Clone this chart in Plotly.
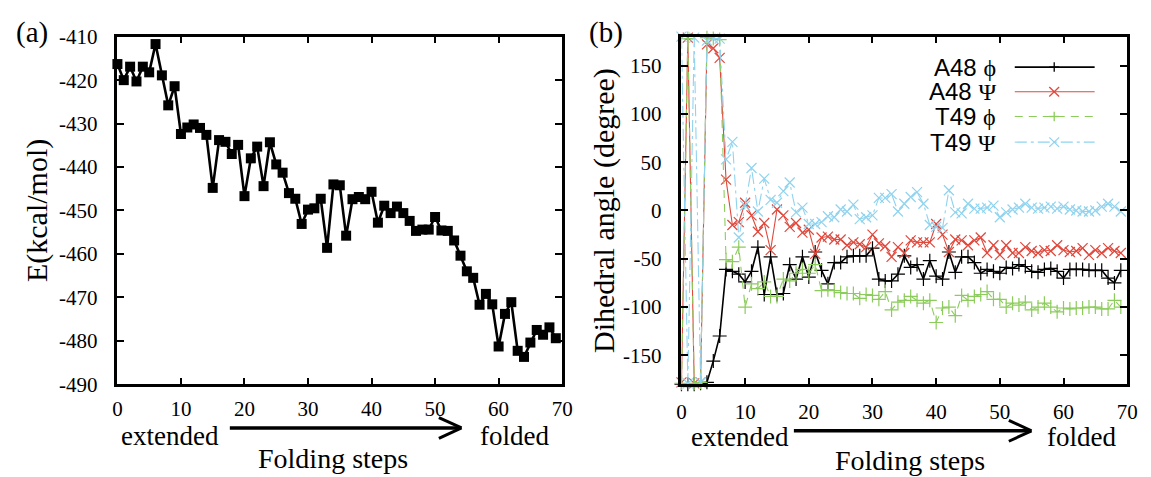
import plotly.graph_objects as go

W, H = 1151, 477

# ---------------- data ----------------
steps = list(range(70))

energy = [-416.3, -420.0, -416.9, -420.3, -416.9, -418.2, -411.7, -418.9, -425.8, -421.4,
          -432.4, -430.9, -430.2, -431.0, -432.6, -444.8, -433.8, -434.2, -437.0, -434.9,
          -446.7, -438.0, -435.3, -444.4, -434.3, -439.4, -441.3, -446.0, -447.3, -453.1,
          -449.8, -449.5, -447.3, -458.6, -444.0, -444.2, -455.8, -447.4, -446.9, -447.4,
          -445.7, -452.8, -448.9, -450.6, -449.1, -450.6, -452.4, -454.7, -454.4, -454.4,
          -451.5, -454.6, -454.7, -456.9, -460.4, -464.0, -465.5, -471.7, -469.2, -471.6,
          -481.3, -473.8, -471.1, -482.3, -483.7, -480.4, -477.5, -478.6, -476.9, -479.4]

a48_phi = [-180, -180, -180, -179, -178, -156, -130, -61, -63, -66,
           -74, -63, -38, -87, -48, -87, -86, -56, -71, -48,
           -69, -43, -62, -76, -54, -54, -48, -47, -47, -47,
           -39, -71, -73, -73, -66, -47, -59, -56, -71, -52,
           -68, -71, -43, -64, -48, -48, -54, -65, -61, -63,
           -65, -59, -60, -56, -58, -63, -64, -61, -60, -63,
           -70, -61, -61, -61, -62, -62, -62, -70, -75, -62]

a48_psi = [-178, 179, -179, -178, 172, 168, 158, 32, -15, -12,
           8, -5, -22, -13, -41, 1, -5, -17, -13, -23,
           -20, -45, -28, -27, -30, -30, -36, -33, -35, -38,
           -25, -34, -37, -48, -38, -44, -31, -33, -33, -33,
           -14, -25, -43, -30, -31, -36, -31, -28, -44, -36,
           -46, -36, -44, -44, -38, -42, -44, -41, -42, -36,
           -41, -43, -42, -39, -46, -41, -44, -39, -42, -44]

t49_phi = [-179, 178, -179, -178, 179, 178, 177, -51, -53, -38,
           -100, -76, -81, -74, -89, -89, -71, -73, -65, -61,
           -65, -56, -83, -82, -83, -85, -86, -86, -91, -87,
           -88, -92, -84, -103, -95, -93, -89, -93, -96, -93,
           -116, -101, -100, -109, -88, -93, -89, -87, -84, -92,
           -92, -100, -96, -98, -95, -103, -100, -96, -100, -105,
           -101, -102, -101, -101, -100, -100, -102, -102, -93, -100]

t49_psi = [180, -179, 179, -178, 176, 178, 178, 53, 71, -28,
           5, 44, -1, 33, 11, 8, 20, 29, -2, 3,
           -14, -14, -12, -6, -7, 1, -1, 6, -9, -7,
           -5, 13, 13, 17, -1, 7, 14, 19, 7, -15,
           -17, -18, 21, -2, -3, 7, 2, 2, 3, 5,
           -7, -2, 1, 3, 7, 3, 2, 3, 4, 2,
           4, 1, 0, -1, -1, 0, 4, 7, 4, -1]

x_ticks = [0, 10, 20, 30, 40, 50, 60, 70]
e_ticks = [-490, -480, -470, -460, -450, -440, -430, -420, -410]
e_tick_text = ["-490", "-480", "-470", "-460", "-450", "-440", "-430", "-420", "-410"]
ang_ticks = [-150, -100, -50, 0, 50, 100, 150]
ang_tick_text = ["-150", "-100", "-50", "0", "50", "100", "150"]

series = [
    ("A48 \u03d5", a48_phi, "#000000", "solid", "cross-thin", 1.6),
    ("A48 \u03a8", a48_psi, "#e0483c", "solid", "x-thin", 1.1),
    ("T49 \u03d5", t49_phi, "#8ccc5c", "8px,6px", "cross-thin", 1.1),
    ("T49 \u03a8", t49_psi, "#8fd3ef", "12px,4px,3px,4px", "x-thin", 1.1),
]

# ---------------- layout helpers ----------------
def px(x):
    return x / W

def py(y):
    return 1 - y / H

SERIF = "Liberation Serif, Times New Roman, serif"
SANS = "Liberation Sans, Arial, sans-serif"

fig = go.Figure()

fig.add_trace(go.Scatter(
    x=steps, y=energy, mode="lines+markers", xaxis="x", yaxis="y",
    line=dict(color="black", width=2.6),
    marker=dict(symbol="square", size=10, color="black"),
    showlegend=False, cliponaxis=False))

for name, vals, col, dash, sym, lw in series:
    fig.add_trace(go.Scatter(
        x=steps, y=vals, mode="lines+markers", xaxis="x2", yaxis="y2", name=name,
        line=dict(color=col, width=lw, dash=dash),
        marker=dict(symbol=sym, size=10, color=col, line=dict(color=col, width=1.2)),
        showlegend=False, cliponaxis=False))

ydom = [py(392), py(26)]
axis_common = dict(showline=True, linecolor="black", linewidth=2.5, mirror="ticks",
                   ticks="inside", ticklen=7, tickwidth=2, tickcolor="black",
                   showgrid=False, zeroline=False,
                   tickfont=dict(family=SERIF, size=21, color="black"))

fig.update_layout(
    width=W, height=H, margin=dict(l=0, r=0, t=0, b=0),
    paper_bgcolor="white", plot_bgcolor="white",
    xaxis=dict(domain=[px(114), px(565)], range=[0, 70], tickvals=x_ticks,
               ticklabelstandoff=4, anchor="y", **axis_common),
    yaxis=dict(domain=ydom, range=[-490, -410], tickvals=e_ticks, ticktext=e_tick_text,
               ticklabelstandoff=13, anchor="x", **axis_common),
    xaxis2=dict(domain=[px(686), px(1138)], range=[0, 70], tickvals=x_ticks,
                ticklabelstandoff=7, anchor="y2", **axis_common),
    yaxis2=dict(domain=ydom, range=[-180, 180], tickvals=ang_ticks, ticktext=ang_tick_text,
                ticklabelstandoff=13, anchor="x2", **axis_common),
)

ann = []
def text(x, y, s, size, angle=0, family=SERIF, xanchor="center"):
    ann.append(dict(x=px(x), y=py(y), xref="paper", yref="paper", text=s, showarrow=False,
                    textangle=angle, xanchor=xanchor, yanchor="middle",
                    font=dict(family=family, size=size, color="black")))

text(27, 22, "(a)", 29)
text(609, 22, "(b)", 29)
text(33, 209, "E(kcal/mol)", 30, angle=-90)
text(608, 209, "Dihedral angle (degree)", 30, angle=-90)
text(167, 446, "extended", 27)
text(517, 446, "folded", 27)
text(333, 470, "Folding steps", 28)
text(745, 448, "extended", 27)
text(1092, 448, "folded", 27)
text(918, 472, "Folding steps", 28)

shapes = []
def arrow(x0, x1, y):
    shapes.append(dict(type="line", xref="paper", yref="paper", x0=px(x0), x1=px(x1),
                       y0=py(y), y1=py(y), line=dict(color="black", width=3.5)))
    for dy in (-11, 11):
        shapes.append(dict(type="line", xref="paper", yref="paper", x0=px(x1 - 22), x1=px(x1 + 1),
                           y0=py(y + dy), y1=py(y), line=dict(color="black", width=3)))

arrow(228, 462, 438)
arrow(800, 1040, 441)

# custom legend (text on the left, sample on the right) in panel (b)
leg_rows = [58, 84, 110, 137]
for (name, vals, col, dash, sym, lw), ry in zip(series, leg_rows):
    lab, greek = name.split(" ")
    ann.append(dict(x=px(1007), y=py(ry), xref="paper", yref="paper", showarrow=False,
                    xanchor="right", yanchor="middle",
                    text=lab + " <span style='font-family:Liberation Serif'>" + greek + "</span>",
                    font=dict(family=SANS, size=24, color="black")))
    shapes.append(dict(type="line", xref="paper", yref="paper", x0=px(1024), x1=px(1105),
                       y0=py(ry), y1=py(ry), line=dict(color=col, width=lw, dash=dash)))
    cx, r = 1064, 5
    if sym == "cross-thin":
        segs = [(cx - r, ry, cx + r, ry), (cx, ry - r, cx, ry + r)]
    else:
        segs = [(cx - r, ry - r, cx + r, ry + r), (cx - r, ry + r, cx + r, ry - r)]
    for a, b, c, d in segs:
        shapes.append(dict(type="line", xref="paper", yref="paper", x0=px(a), x1=px(c),
                           y0=py(b), y1=py(d), line=dict(color=col, width=1.3)))

fig.update_layout(annotations=ann, shapes=shapes)
fig.write_html("out.html")
